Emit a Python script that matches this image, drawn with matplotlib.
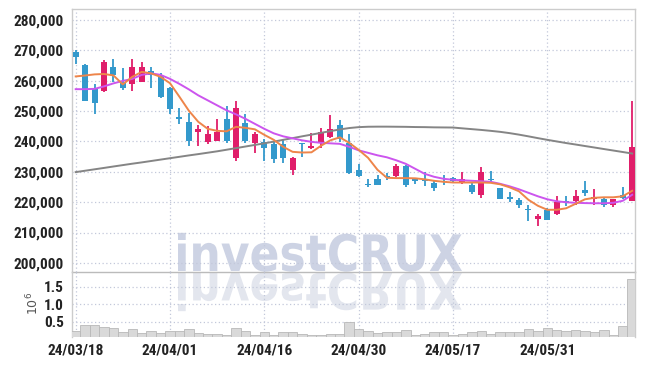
import matplotlib
matplotlib.use("Agg")
import matplotlib.pyplot as plt
import matplotlib.font_manager as fm
from matplotlib.textpath import TextPath
from matplotlib.patches import PathPatch
from matplotlib.font_manager import FontProperties
from matplotlib.transforms import Affine2D
import numpy as np

# ---------------- data ----------------
dates = ["24/03/18", "24/03/19", "24/03/20", "24/03/21", "24/03/22", "24/03/25", "24/03/26", "24/03/27", "24/03/28", "24/03/29",
         "24/04/01", "24/04/02", "24/04/03", "24/04/04", "24/04/05", "24/04/08", "24/04/09", "24/04/11", "24/04/12", "24/04/15",
         "24/04/16", "24/04/17", "24/04/18", "24/04/19", "24/04/22", "24/04/23", "24/04/24", "24/04/25", "24/04/26", "24/04/29",
         "24/04/30", "24/05/02", "24/05/03", "24/05/07", "24/05/08", "24/05/09", "24/05/10", "24/05/13", "24/05/14", "24/05/16",
         "24/05/17", "24/05/20", "24/05/21", "24/05/22", "24/05/23", "24/05/24", "24/05/27", "24/05/28", "24/05/29", "24/05/30",
         "24/05/31", "24/06/03", "24/06/04", "24/06/05", "24/06/07", "24/06/10", "24/06/11", "24/06/12", "24/06/13", "24/06/14"]

opens = [269470, 265200, 257730, 256640, 264540, 259370, 258850, 259700, 263320, 261580,
         257730, 248190, 246440, 243150, 239960, 240290, 247430, 234500, 246210, 239440,
         239960, 239200, 239200, 230650, 239440, 237990, 239960, 241400, 245450, 239530,
         230650, 226040, 227690, 228450, 228450, 231970, 227920, 227260, 226270, 227030,
         227920, 226600, 225710, 222200, 227590, 224630, 221540, 220550, 217720, 214440,
         217490, 216070, 220450, 220450, 224070, 221010, 221010, 219140, 222430, 220450]
highs = [270130, 265500, 258940, 266940, 267070, 264110, 267070, 266080, 264540, 262460,
         258000, 250950, 249500, 245450, 245130, 247330, 251700, 253350, 249070, 243250,
         240750, 239960, 240520, 235000, 239500, 242920, 244370, 248740, 247100, 242400,
         232620, 227590, 229000, 229560, 232520, 232100, 228100, 229770, 227360, 229000,
         228200, 229770, 226600, 231540, 230420, 224700, 223500, 221340, 219140, 216170,
         218050, 221870, 221870, 224070, 226800, 224400, 221700, 221200, 224960, 253450]
lows = [265520, 253200, 249070, 256300, 259700, 256970, 256640, 259400, 257730, 254440,
        248970, 245780, 238550, 238550, 239100, 240100, 239430, 233710, 239630, 236150,
        233710, 232850, 232850, 229000, 235030, 237460, 237790, 241200, 239960, 229300,
        228120, 224960, 225600, 227360, 228300, 224960, 226040, 225390, 223740, 225710,
        226600, 225940, 222660, 221340, 226470, 221000, 219900, 218050, 213640, 212230,
        214000, 215800, 218570, 219140, 222100, 219140, 218250, 218380, 221200, 220300]
closes = [267830, 253450, 252790, 266280, 261900, 257730, 264540, 264540, 261900, 254770,
          250720, 247330, 240190, 244140, 242490, 243150, 240190, 250950, 240290, 242490,
          237990, 234270, 234500, 234700, 239110, 238650, 243250, 244040, 240750, 229500,
          228450, 225710, 225710, 228120, 231970, 225710, 226810, 227030, 224630, 226700,
          226810, 227590, 223500, 229900, 227130, 221110, 221010, 219140, 217260, 215290,
          214200, 220000, 220050, 222100, 222980, 221540, 219140, 221010, 221340, 238120]
volumes = [230000, 400000, 400000, 340000, 310000, 200000, 290000, 170000, 230000, 170000,
           230000, 230000, 290000, 170000, 140000, 160000, 130000, 310000, 230000, 130000,
           190000, 130000, 190000, 190000, 160000, 130000, 130000, 160000, 160000, 480000,
           290000, 230000, 170000, 190000, 190000, 260000, 130000, 140000, 190000, 190000,
           110000, 160000, 190000, 220000, 160000, 190000, 190000, 190000, 280000, 220000,
           310000, 250000, 220000, 250000, 220000, 190000, 250000, 110000, 390000, 1730000]
ma_short = [261400, 261700, 262070, 262200, 261740, 258780, 261250, 262900, 262400, 261250,
            259170, 254700, 250100, 246440, 244140, 243480, 243320, 244800, 244470, 243980,
            242160, 240520, 238220, 236570, 236340, 236410, 238550, 240360, 241340, 239530,
            237230, 234600, 230650, 228020, 227920, 227920, 227850, 227520, 227030, 226700,
            226470, 226470, 226470, 226470, 226370, 225880, 224890, 223570, 220780, 218810,
            217490, 217490, 217980, 219460, 220940, 221440, 221600, 221600, 221930, 223740]
ma_mid = [257200, 257200, 257300, 258120, 259110, 259930, 260590, 261910, 262400, 261910,
          260590, 258940, 257130, 255160, 253520, 251870, 250230, 248910, 247430, 245780,
          244140, 242660, 241670, 241010, 240360, 239860, 239530, 239370, 239200, 238220,
          237070, 236240, 235420, 234760, 233770, 232620, 230980, 229330, 228350, 227690,
          227360, 227200, 227030, 226870, 226700, 226040, 225220, 224230, 223080, 221930,
          220950, 220290, 219960, 219790, 219690, 219630, 219630, 219790, 220450, 222430]
ma_long = [229890, 230350, 230810, 231270, 231740, 232200, 232660, 233090, 233550, 234010,
           234470, 234930, 235390, 235820, 236280, 236740, 237260, 237790, 238320, 238840,
           239370, 239930, 240520, 241080, 241670, 242230, 242820, 243380, 243940, 244400,
           244700, 244830, 244860, 244860, 244830, 244800, 244730, 244700, 244630, 244600,
           244570, 244300, 244040, 243780, 243480, 243150, 242730, 242230, 241670, 241080,
           240520, 239990, 239460, 238980, 238480, 237990, 237490, 237000, 236510, 236010]
price_ticks = [200000, 210000, 220000, 230000, 240000, 250000, 260000, 270000, 280000]
vol_ticks = [0.5, 1.0, 1.5]
label_every = 10

# ---------------- style ----------------
names = {f.name for f in fm.fontManager.ttflist}
tick_family = "DejaVu Sans"
for cand in ["Liberation Sans Narrow", "Roboto Condensed", "Open Sans Condensed"]:
    if cand in names:
        tick_family = cand
        break
tick_fp = dict(family=tick_family, size=11, color="#222222", weight="bold")
if tick_family == "DejaVu Sans":
    tick_fp = dict(family=tick_family, size=9.5, color="#222222", stretch="condensed")

UP = "#e01e6a"
DOWN = "#3399cc"
GRID = "#c3c8da"

W, H = 645, 366
fig = plt.figure(figsize=(W / 100, H / 100), dpi=100, facecolor="white")

L, R = 72, 635
ax = fig.add_axes([L / W, 1 - 272 / H, (R - L) / W, 263 / H], zorder=2)
axv = fig.add_axes([L / W, 1 - 337 / H, (R - L) / W, 65 / H], zorder=2, sharex=ax)
for a in (ax, axv):
    a.set_facecolor("none")

# watermark overlay (behind)
wm = fig.add_axes([0, 0, 1, 1], zorder=1)
wm.set_xlim(0, W)
wm.set_ylim(0, H)
wm.axis("off")
tp = TextPath((0, 0), "investCRUX", prop=FontProperties(family="DejaVu Sans", weight="bold"), size=10)
cap = TextPath((0, 0), "CRUX", prop=FontProperties(family="DejaVu Sans", weight="bold"), size=10)
ext = tp.get_extents()
cext = cap.get_extents()
sx = (462 - 178) / ext.width
sy = 38.0 / cext.height
base_y = H - 271
tr_top = Affine2D().translate(-ext.x0, 0).scale(sx, sy).translate(178, base_y)
tr_bot = Affine2D().translate(-ext.x0, 0).scale(sx, -sy).translate(178, base_y - 2)
wm.add_patch(PathPatch(tr_bot.transform_path(tp), facecolor="#e3e6ee", edgecolor="none"))
wm.add_patch(PathPatch(tr_top.transform_path(tp), facecolor="#cdd3e4", edgecolor="none"))

x = np.arange(len(dates))
o = np.array(opens); h = np.array(highs); l = np.array(lows); c = np.array(closes)
colors = [UP if cc >= oo else DOWN for oo, cc in zip(o, c)]
bottoms = np.minimum(o, c)
heights = np.maximum(np.abs(c - o), 350)

ax.vlines(x, l, h, colors=colors, linewidth=1.3, zorder=3)
ax.bar(x, heights, bottom=bottoms, width=0.64, color=colors, edgecolor="none", zorder=4)

ax.plot(x, ma_long, color="#858585", lw=1.4, zorder=5)
ax.plot(x, ma_mid, color="#cc55ee", lw=1.4, zorder=5)
ax.plot(x, ma_short, color="#ee854a", lw=1.4, zorder=6)

vols = np.array(volumes) / 1e6
axv.bar(x, vols, width=1.0, color="#d9d9d9", edgecolor="#b8b8b8", linewidth=0.6, zorder=3)

ax.set_xlim(-0.39, 59.3)
ax.set_ylim(197000, 283600)
axv.set_ylim(0.06, 1.93)

ax.set_yticks(price_ticks)
ax.set_yticklabels([f"{v:,}" for v in price_ticks], **tick_fp)
axv.set_yticks(vol_ticks)
axv.set_yticklabels([f"{v:.1f}" for v in vol_ticks], **tick_fp)
tick_idx = list(range(0, len(dates), label_every))
axv.set_xticks(tick_idx)
axv.set_xticklabels([dates[i] for i in tick_idx], **tick_fp)
ax.tick_params(axis="x", labelbottom=False, length=0)
ax.tick_params(axis="y", length=0, pad=6)
axv.tick_params(axis="both", length=0, pad=6)
axv.tick_params(axis="x", pad=5)

for a in (ax, axv):
    a.grid(True, color=GRID, linestyle=(0, (1, 2)), linewidth=0.9, zorder=0)
    a.set_axisbelow(True)
    for s in a.spines.values():
        s.set_color("#cccccc")
        s.set_linewidth(1.0)
ax.spines["bottom"].set_color("#bbbbbb")
axv.spines["top"].set_visible(False)
axv.spines["bottom"].set_visible(False)

fig.text(33 / W, 1 - 303 / H, r"$10^6$", rotation=90, ha="center", va="center",
         fontsize=9, color="#555555")

fig.savefig("out.png", dpi=100, facecolor="white")
